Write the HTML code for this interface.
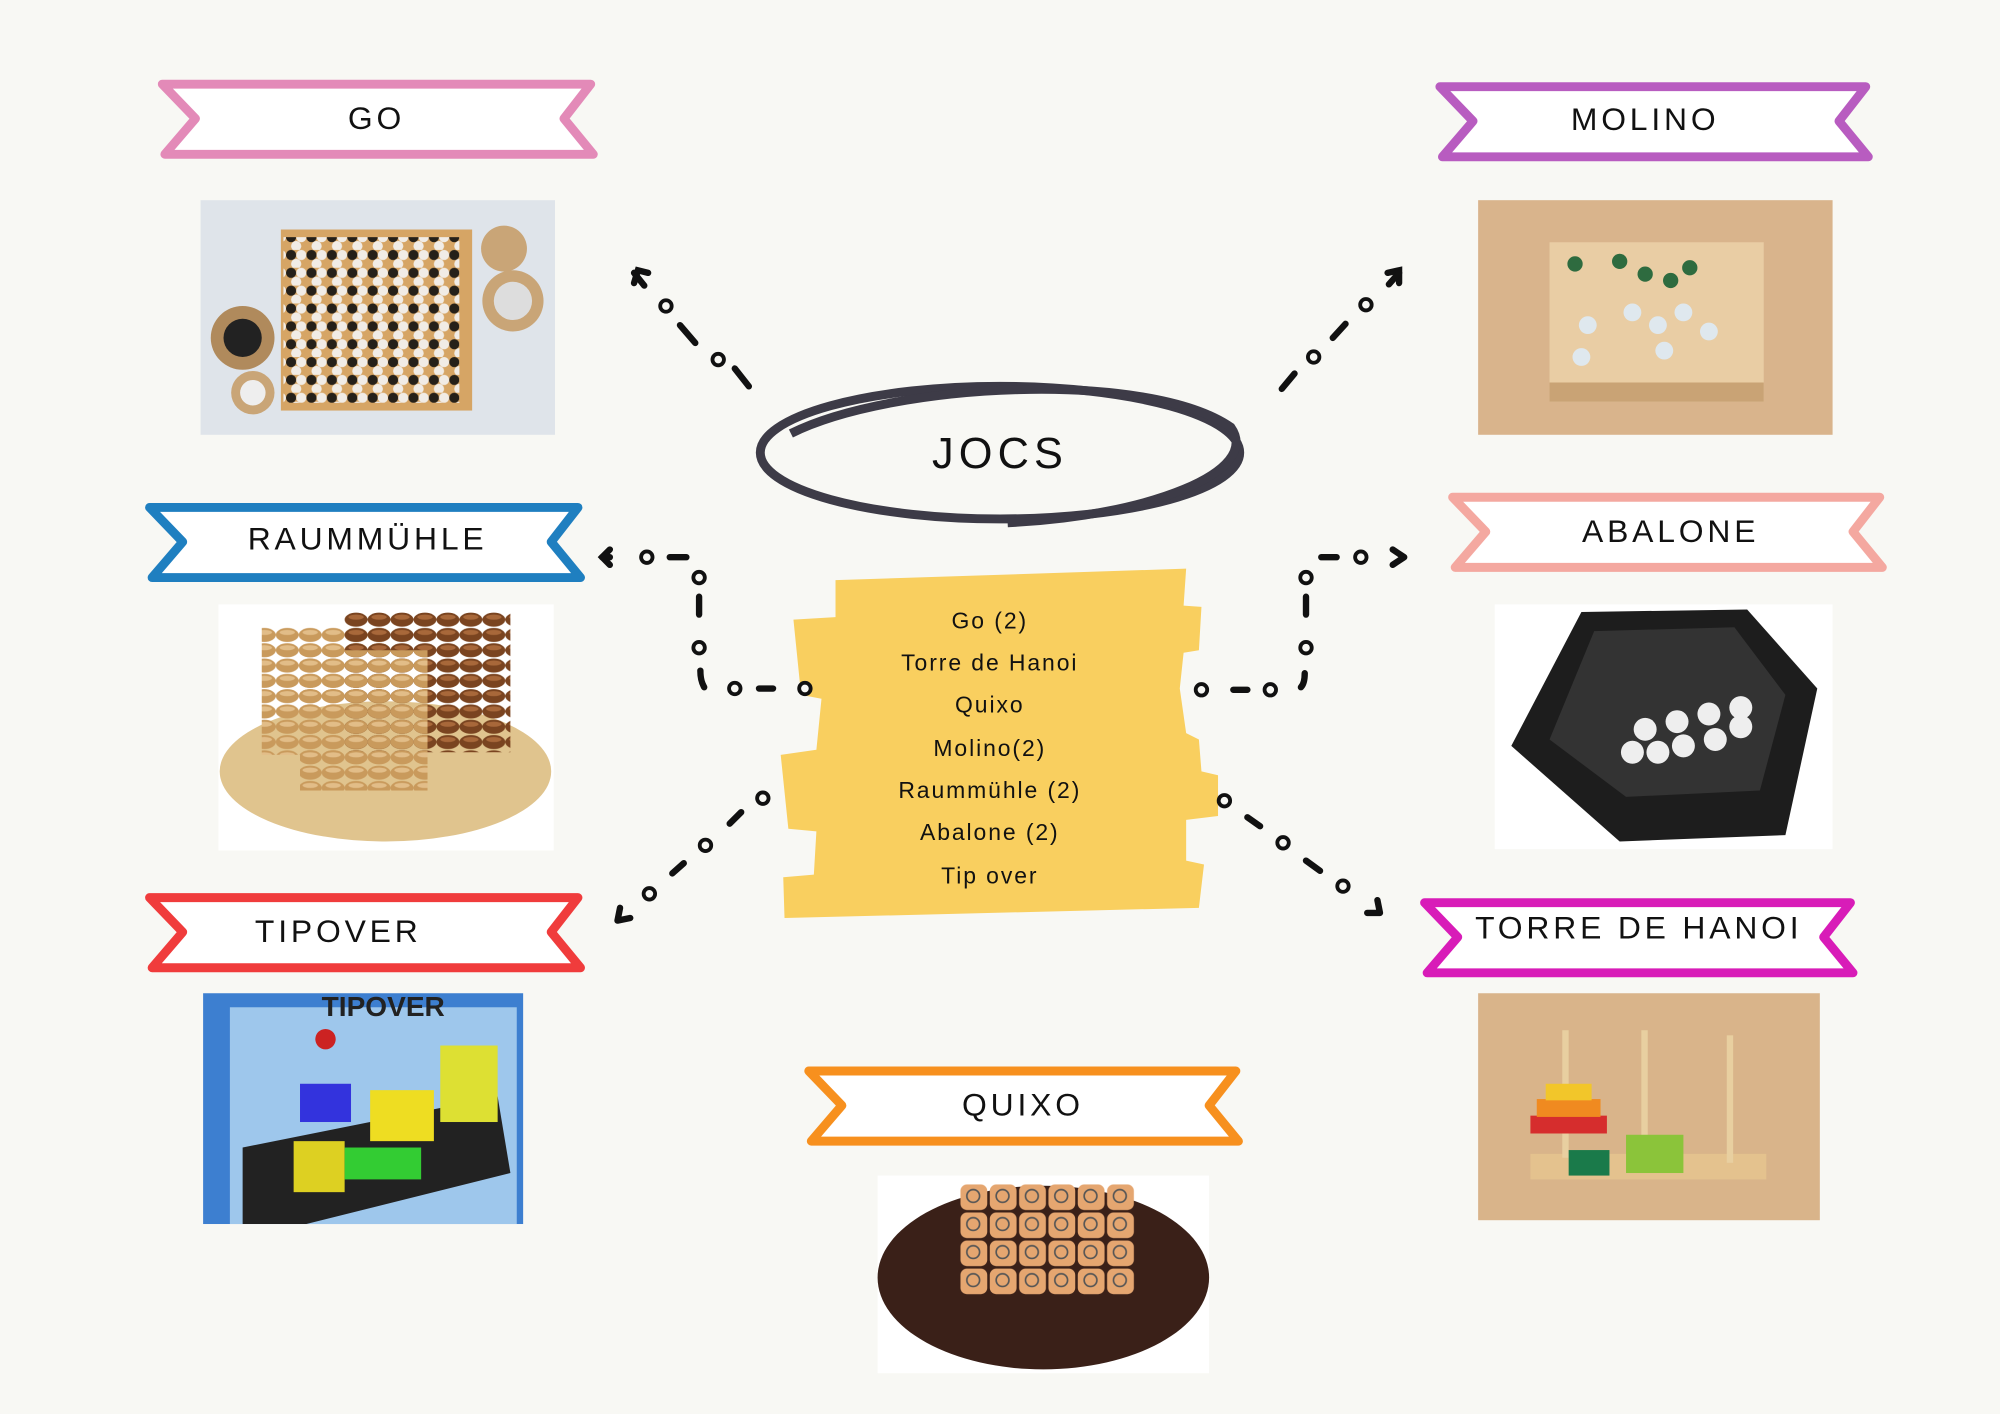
<!DOCTYPE html>
<html><head><meta charset="utf-8"><style>
html,body{margin:0;padding:0;background:#f8f8f4;}
svg{display:block;}
text{font-family:"Liberation Sans","DejaVu Sans",sans-serif;}
</style></head><body>
<svg width="2000" height="1414" viewBox="0 0 1568 1109" xmlns="http://www.w3.org/2000/svg">
<defs>
<pattern id="gostones" width="16" height="14" patternUnits="userSpaceOnUse">
<circle cx="4" cy="4" r="4" fill="#111"/><circle cx="12" cy="4" r="4" fill="#f4f4f4"/>
<circle cx="8" cy="11" r="4" fill="#f4f4f4"/>
</pattern>
<pattern id="beads" width="18" height="12" patternUnits="userSpaceOnUse">
<ellipse cx="9" cy="6" rx="9" ry="5.5" fill="#7a4420"/><ellipse cx="9" cy="4" rx="6" ry="2" fill="#a8683a"/>
</pattern>
<pattern id="beadsL" width="18" height="12" patternUnits="userSpaceOnUse">
<ellipse cx="9" cy="6" rx="9" ry="5.5" fill="#c99a5c"/><ellipse cx="9" cy="4" rx="6" ry="2" fill="#e2bd88"/>
</pattern>
<pattern id="cubes" x="752" y="928" width="23" height="22" patternUnits="userSpaceOnUse">
<rect x="1" y="1" width="21" height="20" rx="5" fill="#e5a670"/><circle cx="11" cy="10" r="5" fill="none" stroke="#555" stroke-width="1.3"/>
</pattern>
</defs>
<rect width="1568" height="1109" fill="#f8f8f4"/>
<!-- Ribbons -->
<g fill="none" stroke-linejoin="round" stroke-width="7">
<path d="M127,66 L463,66 L442,93 L465,121 L129,121 L153,93 Z" stroke="#e38ab8" fill="#fff"/>
<path d="M1129,68 L1463,68 L1442,95 L1465,123 L1131,123 L1155,95 Z" stroke="#b85cc0" fill="#fff"/>
<path d="M117,398 L453,398 L432,425 L455,453 L119,453 L143,425 Z" stroke="#1f7fc0" fill="#fff"/>
<path d="M1139,390 L1474,390 L1453,417 L1476,445 L1141,445 L1165,417 Z" stroke="#f4a8a0" fill="#fff"/>
<path d="M117,704 L453,704 L432,731 L455,759 L119,759 L143,731 Z" stroke="#f03c3c" fill="#fff"/>
<path d="M1117,708 L1451,708 L1430,735 L1453,763 L1119,763 L1143,735 Z" stroke="#d81cb8" fill="#fff"/>
<path d="M634,840 L969,840 L948,867 L971,895 L636,895 L660,867 Z" stroke="#f7901e" fill="#fff"/>
</g>
<g font-size="25" letter-spacing="3" text-anchor="middle" fill="#111">
<text x="295" y="101">GO</text>
<text x="1290" y="102">MOLINO</text>
<text x="288" y="431">RAUMMÜHLE</text>
<text x="1310" y="425">ABALONE</text>
<text x="265" y="739">TIPOVER</text>
<text x="1285" y="736">TORRE DE HANOI</text>
<text x="802" y="875">QUIXO</text>
</g>
<!-- GO photo -->
<rect x="157" y="157" width="278" height="184" fill="#dfe4ea"/>
<rect x="220" y="180" width="150" height="142" fill="#d6a565"/>
<rect x="222" y="186" width="138" height="130" fill="url(#gostones)" opacity="0.9"/>
<circle cx="190" cy="265" r="25" fill="#b08a5c"/><circle cx="190" cy="265" r="15" fill="#222"/>
<circle cx="395" cy="195" r="18" fill="#c9a577"/><circle cx="402" cy="236" r="24" fill="#c9a577"/><circle cx="402" cy="236" r="15" fill="#ddd"/><circle cx="198" cy="308" r="17" fill="#c9a577"/><circle cx="198" cy="308" r="10" fill="#eee"/>
<!-- MOLINO -->
<rect x="1159" y="157" width="278" height="184" fill="#d9b48c"/>
<rect x="1215" y="190" width="168" height="125" fill="#e9cda4"/>
<rect x="1215" y="300" width="168" height="15" fill="#c9a375"/>
<g fill="#2e6b3f"><circle cx="1235" cy="207" r="6"/><circle cx="1270" cy="205" r="6"/><circle cx="1290" cy="215" r="6"/><circle cx="1325" cy="210" r="6"/><circle cx="1310" cy="220" r="6"/></g>
<g fill="#dfe8ee"><circle cx="1245" cy="255" r="7"/><circle cx="1280" cy="245" r="7"/><circle cx="1300" cy="255" r="7"/><circle cx="1320" cy="245" r="7"/><circle cx="1305" cy="275" r="7"/><circle cx="1340" cy="260" r="7"/><circle cx="1240" cy="280" r="7"/></g>
<!-- RAUMMUHLE -->
<rect x="171" y="474" width="263" height="193" fill="#fff"/>
<ellipse cx="302" cy="605" rx="130" ry="55" fill="#e0c48e"/>
<rect x="205" y="492" width="100" height="100" fill="url(#beadsL)"/>
<rect x="270" y="480" width="130" height="110" fill="url(#beads)"/>
<rect x="235" y="510" width="100" height="110" fill="url(#beadsL)"/>
<!-- ABALONE -->
<rect x="1172" y="474" width="265" height="192" fill="#fff"/>
<polygon points="1240,480 1370,478 1425,540 1400,655 1270,660 1185,585" fill="#1d1d1d"/>
<polygon points="1250,495 1360,492 1400,545 1380,620 1275,625 1215,580" fill="#333"/>
<g fill="#eee"><circle cx="1280" cy="590" r="9"/><circle cx="1300" cy="590" r="9"/><circle cx="1320" cy="585" r="9"/><circle cx="1345" cy="580" r="9"/><circle cx="1365" cy="570" r="9"/><circle cx="1290" cy="572" r="9"/><circle cx="1315" cy="566" r="9"/><circle cx="1340" cy="560" r="9"/><circle cx="1365" cy="555" r="9"/></g>
<!-- TIPOVER -->
<rect x="159" y="779" width="251" height="181" fill="#3d7fd0"/>
<rect x="180" y="790" width="225" height="170" fill="#9ec7ec"/>
<text x="252" y="797" font-size="22" font-weight="bold" fill="#222">TIPOVER</text>
<polygon points="190,900 390,860 400,920 240,960 190,960" fill="#222"/>
<rect x="235" y="850" width="40" height="30" fill="#3333dd"/><rect x="290" y="855" width="50" height="40" fill="#eedd22"/>
<rect x="230" y="895" width="40" height="40" fill="#ddd022"/><rect x="270" y="900" width="60" height="25" fill="#33cc33"/>
<rect x="345" y="820" width="45" height="60" fill="#dde033"/><circle cx="255" cy="815" r="8" fill="#cc2222"/>
<!-- HANOI -->
<rect x="1159" y="779" width="268" height="178" fill="#d9b48a"/>
<rect x="1200" y="905" width="185" height="20" fill="#e4c28e"/>
<rect x="1225" y="808" width="5" height="100" fill="#e8cfa0"/><rect x="1287" y="808" width="5" height="100" fill="#e8cfa0"/><rect x="1354" y="812" width="5" height="100" fill="#e8cfa0"/>
<rect x="1200" y="875" width="60" height="14" fill="#d62d2d"/><rect x="1205" y="862" width="50" height="14" fill="#f08a20"/><rect x="1212" y="850" width="36" height="13" fill="#f2c62a"/>
<rect x="1230" y="902" width="32" height="20" fill="#1a7a4a"/><rect x="1275" y="890" width="45" height="30" fill="#8bc43a"/>
<!-- QUIXO -->
<rect x="688" y="922" width="260" height="155" fill="#fff"/>
<ellipse cx="818" cy="1002" rx="130" ry="72" fill="#3a2018"/>
<rect x="752" y="928" width="138" height="88" fill="url(#cubes)"/>

<!-- JOCS ellipse -->
<g fill="none" stroke="#3d3b47" stroke-width="7">
<ellipse cx="784" cy="355" rx="188" ry="52"/>
<path d="M620,340 C700,300 900,290 965,335 C990,370 900,405 790,410" />
</g>
<text x="784" y="367" text-anchor="middle" font-size="34" letter-spacing="4" fill="#111">JOCS</text>

<!-- Yellow note -->
<path d="M655,455 L930,446 L928,475 L942,476 L940,510 L928,512 L925,540 L930,575 L940,580 L942,605 L955,608 L955,640 L930,643 L930,675 L944,678 L940,712 L615,720 L614,688 L638,686 L640,652 L618,650 L612,592 L640,588 L644,548 L628,545 L622,486 L655,484 Z" fill="#f9cf5f"/>
<g font-size="18" letter-spacing="1.5" text-anchor="middle" fill="#111">
<text x="776" y="493">Go (2)</text>
<text x="776" y="526">Torre de Hanoi</text>
<text x="776" y="559">Quixo</text>
<text x="776" y="593">Molino(2)</text>
<text x="776" y="626">Raummühle (2)</text>
<text x="776" y="659">Abalone (2)</text>
<text x="776" y="693">Tip over</text>
</g>

<!-- connectors -->
<g stroke="#111" stroke-width="5" stroke-linecap="round" fill="none">
<path d="M576,289 L587,303"/><path d="M533,255 L545,269"/>
<path d="M497,222 L500,212 L508,214"/><path d="M497,214 L505,224"/>
<path d="M1005,305 L1015,293"/><path d="M1045,265 L1055,254"/>
<path d="M1097,222 L1097,212 L1088,214"/><path d="M1097,214 L1089,223"/>
<path d="M525,437 L538,437"/><path d="M548,468 L548,482"/><path d="M549,526 C549,534 551,537 552,539"/><path d="M595,540 L606,540"/>
<path d="M478,437 L472,437"/><path d="M478,431 L472,437 L478,443"/>
<path d="M1036,437 L1048,437"/><path d="M1024,468 L1024,482"/><path d="M1023,528 C1023,534 1022,537 1020,539"/><path d="M967,541 L978,541"/>
<path d="M1101,437 L1092,431 M1101,437 L1092,443"/>
<path d="M572,646 L581,637"/><path d="M527,685 L536,677"/>
<path d="M484,722 L486,712 M484,722 L494,720"/>
<path d="M978,641 L988,648"/><path d="M1024,675 L1035,683"/>
<path d="M1082,716 L1072,716 M1082,716 L1080,706"/>
</g>
<g stroke="#111" stroke-width="3" fill="#f8f8f4">
<circle cx="522" cy="240" r="4.5"/><circle cx="563" cy="282" r="4.5"/>
<circle cx="1030" cy="280" r="4.5"/><circle cx="1071" cy="239" r="4.5"/>
<circle cx="507" cy="437" r="4.5"/><circle cx="548" cy="453" r="4.5"/><circle cx="548" cy="508" r="4.5"/><circle cx="576" cy="540" r="4.5"/><circle cx="631" cy="540" r="4.5"/>
<circle cx="1067" cy="437" r="4.5"/><circle cx="1024" cy="453" r="4.5"/><circle cx="1024" cy="508" r="4.5"/><circle cx="996" cy="541" r="4.5"/><circle cx="942" cy="541" r="4.5"/>
<circle cx="598" cy="626" r="4.5"/><circle cx="553" cy="663" r="4.5"/><circle cx="509" cy="701" r="4.5"/>
<circle cx="960" cy="628" r="4.5"/><circle cx="1006" cy="661" r="4.5"/><circle cx="1053" cy="695" r="4.5"/>
</g>
</svg>
</body></html>
